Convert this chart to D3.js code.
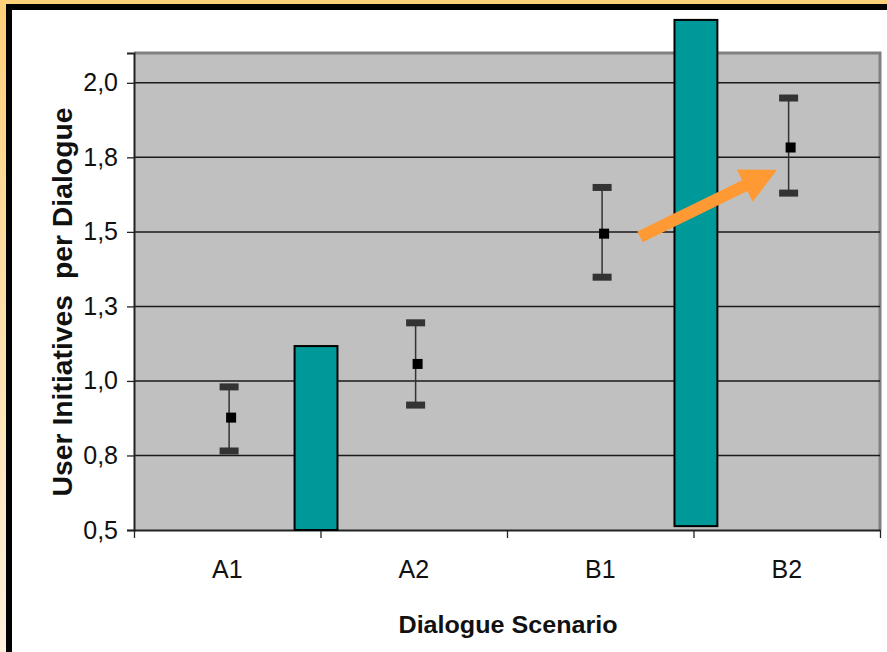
<!DOCTYPE html>
<html>
<head>
<meta charset="utf-8">
<script src="https://cdn.jsdelivr.net/npm/d3@7"></script>
<style>
  body { margin: 0; background: #ffd27f; }
  svg { display: block; font-family: 'Liberation Sans', Arial, sans-serif; }
</style>
</head>
<body>
<div id="chart"></div>
<script>
// categories and values
var categories = ['A1', 'A2', 'B1', 'B2'];
var yTicks = [0.5, 0.75, 1.0, 1.25, 1.5, 1.75, 2.0];
var yTickLabels = ['0,5', '0,8', '1,0', '1,3', '1,5', '1,8', '2,0'];

// mean with error bars per scenario
var means = [0.877, 1.057, 1.494, 1.783];
var upper = [0.980, 1.195, 1.649, 1.949];
var lower = [0.765, 0.919, 1.348, 1.630];

// teal bars sit between the scenarios (position in category units)
var barPos = [0.976, 3.013];
var barLow = [0.5, 0.513];
var barHigh = [1.117, 2.211];

// orange arrow, from B1 towards B2 (category units, value)
var arrowFrom = [2.713, 1.483];
var arrowTo = [3.448, 1.708];

// svg area
var svgWidth = 887;
var svgHeight = 652;

var margin = { top: 53, bottom: 122, right: 7, left: 134 };
var width = svgWidth - margin.left - margin.right;
var height = svgHeight - margin.top - margin.bottom;

var svg = d3.select('#chart')
    .append('svg')
    .attr('width', svgWidth)
    .attr('height', svgHeight);

// orange + black frame
var grad = svg.append('defs').append('linearGradient')
    .attr('id', 'frameGrad')
    .attr('x1', 0).attr('y1', 0).attr('x2', 0).attr('y2', 1);
grad.append('stop').attr('offset', '0%').attr('stop-color', '#ffd07a');
grad.append('stop').attr('offset', '100%').attr('stop-color', '#fff0dc');

svg.append('rect')
    .attr('x', 0).attr('y', 0)
    .attr('width', svgWidth).attr('height', svgHeight)
    .attr('fill', 'url(#frameGrad)');
svg.append('rect')
    .attr('x', 9).attr('y', 7)
    .attr('width', svgWidth + 20).attr('height', svgHeight)
    .attr('fill', '#fff')
    .attr('stroke', '#000')
    .attr('stroke-width', 6);

var chartGroup = svg.append('g')
    .attr('transform', `translate(${margin.left}, ${margin.top})`);

var xScale = d3.scaleLinear()
    .domain([0, categories.length])
    .range([0, width]);

var yScale = d3.scaleLinear()
    .domain([0.5, 2.1])
    .range([height, 0]);

// plot area
chartGroup.append('rect')
    .attr('x', 0).attr('y', 0)
    .attr('width', width).attr('height', height)
    .attr('fill', '#c0c0c0');
chartGroup.append('path')
    .attr('d', `M0,0 H${width} V${height}`)
    .attr('fill', 'none')
    .attr('stroke', '#808080')
    .attr('stroke-width', 3);

// gridlines
chartGroup.selectAll('.grid')
    .data(yTicks.slice(1))
    .enter()
    .append('line')
    .attr('x1', 0)
    .attr('x2', width)
    .attr('y1', d => yScale(d))
    .attr('y2', d => yScale(d))
    .attr('stroke', '#1a1a1a')
    .attr('stroke-width', 1.5);

// y axis
var leftAxis = d3.axisLeft(yScale)
    .tickValues(yTicks)
    .tickSize(7)
    .tickPadding(9)
    .tickFormat((d, i) => yTickLabels[i]);

var yAxis = chartGroup.append('g')
    .call(leftAxis);
yAxis.select('.domain').attr('stroke', '#222').attr('stroke-width', 2);
yAxis.selectAll('line').attr('stroke', '#222').attr('stroke-width', 1.3);
yAxis.selectAll('text')
    .attr('font-size', 25)
    .attr('fill', '#111')
    .attr('font-family', "'Liberation Sans', Arial, sans-serif");

// x axis with ticks between categories
var bottomAxis = d3.axisBottom(xScale)
    .tickValues(d3.range(0, categories.length + 1))
    .tickSize(8)
    .tickSizeOuter(0)
    .tickFormat('');

var xAxis = chartGroup.append('g')
    .attr('transform', `translate(0, ${height})`)
    .call(bottomAxis);
xAxis.select('.domain').attr('stroke', '#222').attr('stroke-width', 2);
xAxis.selectAll('line').attr('stroke', '#222').attr('stroke-width', 1.3);

chartGroup.selectAll('.cat')
    .data(categories)
    .enter()
    .append('text')
    .attr('x', (d, i) => xScale(i + 0.5))
    .attr('y', height + 48)
    .attr('text-anchor', 'middle')
    .attr('font-size', 25)
    .attr('fill', '#111')
    .text(d => d);

// bars
chartGroup.selectAll('.bar')
    .data(barPos)
    .enter()
    .append('rect')
    .attr('x', d => xScale(d - 0.115))
    .attr('width', xScale(0.23) - xScale(0))
    .attr('y', (d, i) => yScale(barHigh[i]))
    .attr('height', (d, i) => yScale(barLow[i]) - yScale(barHigh[i]))
    .attr('fill', '#009999')
    .attr('stroke', '#000')
    .attr('stroke-width', 2);

// error bars
var errGroup = chartGroup.selectAll('.err')
    .data(means)
    .enter()
    .append('g')
    .attr('transform', (d, i) => `translate(${xScale(i + 0.51)}, 0)`);

errGroup.append('line')
    .attr('x1', 0).attr('x2', 0)
    .attr('y1', (d, i) => yScale(upper[i]))
    .attr('y2', (d, i) => yScale(lower[i]))
    .attr('stroke', '#333')
    .attr('stroke-width', 1.5);

errGroup.append('rect')
    .attr('x', -9.5).attr('width', 19)
    .attr('y', (d, i) => yScale(upper[i]) - 3.5)
    .attr('height', 7)
    .attr('fill', '#333');

errGroup.append('rect')
    .attr('x', -9.5).attr('width', 19)
    .attr('y', (d, i) => yScale(lower[i]) - 3.5)
    .attr('height', 7)
    .attr('fill', '#333');

errGroup.append('rect')
    .attr('x', -3).attr('width', 10)
    .attr('y', d => yScale(d) - 5)
    .attr('height', 10)
    .attr('fill', '#000');

// arrow
var ax0 = xScale(arrowFrom[0]), ay0 = yScale(arrowFrom[1]);
var ax1 = xScale(arrowTo[0]), ay1 = yScale(arrowTo[1]);
var dx = ax1 - ax0, dy = ay1 - ay0;
var len = Math.sqrt(dx * dx + dy * dy);
var ux = dx / len, uy = dy / len;
var px = -uy, py = ux;
var headLen = 36, headHalf = 18, shaftHalf = 6;
var bx = ax1 - ux * headLen, by = ay1 - uy * headLen;
var arrowPts = [
    [ax0 + px * shaftHalf, ay0 + py * shaftHalf],
    [bx + px * shaftHalf, by + py * shaftHalf],
    [bx + px * headHalf, by + py * headHalf],
    [ax1, ay1],
    [bx - px * headHalf, by - py * headHalf],
    [bx - px * shaftHalf, by - py * shaftHalf],
    [ax0 - px * shaftHalf, ay0 - py * shaftHalf]
];
chartGroup.append('polygon')
    .attr('points', arrowPts.map(p => p.join(',')).join(' '))
    .attr('fill', '#ff9933');

// axis titles
svg.append('text')
    .attr('transform', 'translate(72, 302) rotate(-90)')
    .attr('text-anchor', 'middle')
    .attr('font-size', 28)
    .attr('font-weight', 'bold')
    .attr('fill', '#111')
    .attr('textLength', 389)
    .attr('lengthAdjust', 'spacingAndGlyphs')
    .style('white-space', 'pre')
    .text('User Initiatives  per Dialogue');

svg.append('text')
    .attr('x', 508)
    .attr('y', 633)
    .attr('text-anchor', 'middle')
    .attr('font-size', 24)
    .attr('font-weight', 'bold')
    .attr('fill', '#111')
    .attr('textLength', 219)
    .attr('lengthAdjust', 'spacingAndGlyphs')
    .text('Dialogue Scenario');
</script>
</body>
</html>
